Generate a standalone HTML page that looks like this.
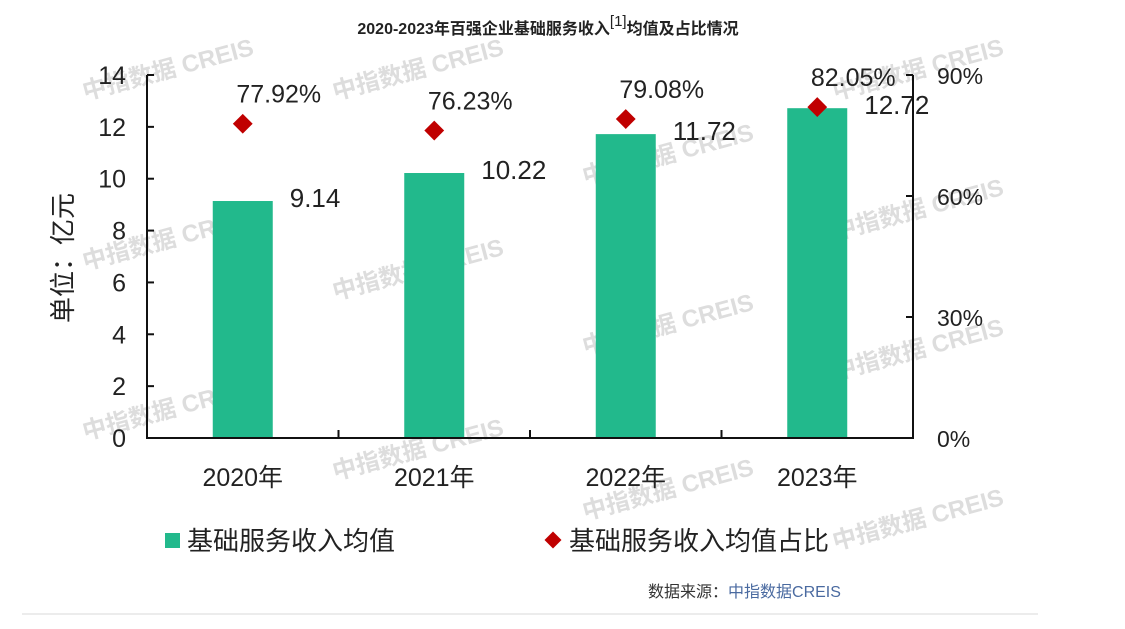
<!DOCTYPE html>
<html><head><meta charset="utf-8"><style>
body{margin:0;background:#fff;width:1125px;height:624px;overflow:hidden;font-family:"Liberation Sans","Noto Sans CJK SC",sans-serif}
</style></head><body>
<svg id="c" width="1125" height="624" xmlns="http://www.w3.org/2000/svg" style="font-family:'Liberation Sans','Noto Sans CJK SC',sans-serif">
<text x="548" y="34" text-anchor="middle" font-size="16" font-weight="bold" fill="#222">2020-2023年百强企业基础服务收入<tspan dy="-8" font-weight="normal" font-size="15">[1]</tspan><tspan dy="8">均值及占比情况</tspan></text>
<g id="wm" fill="#ddd" font-size="24" font-weight="bold"></g>
<g id="plot"></g>
<text transform="translate(72,258) rotate(-90)" text-anchor="middle" font-size="26" fill="#222">单位：亿元</text>
<rect x="165" y="533" width="15" height="15" fill="#22b98c"/>
<text x="187" y="550" font-size="26" fill="#222">基础服务收入均值</text>
<rect x="547" y="534" width="12" height="12" fill="#c00000" transform="rotate(45 553 540)"/>
<text x="569" y="550" font-size="26" fill="#222">基础服务收入均值占比</text>
<text x="648" y="597" font-size="16" fill="#333">数据来源：<tspan fill="#4a6aa0">中指数据CREIS</tspan></text>
<line x1="22" y1="614" x2="1038" y2="614" stroke="#e6e6e6" stroke-width="1.5"/>
</svg>
<script>
const categories=["2020年","2021年","2022年","2023年"];
const barValues=[9.14,10.22,11.72,12.72];
const barLabels=["9.14","10.22","11.72","12.72"];
const pctValues=[77.92,76.23,79.08,82.05];
const pctLabels=["77.92%","76.23%","79.08%","82.05%"];
const leftTicks=[0,2,4,6,8,10,12,14];
const rightTicks=[0,30,60,90];
const rightTickLabels=["0%","30%","60%","90%"];
const NS="http://www.w3.org/2000/svg";
const X0=147,X1=913,Y0=438,Y1=75;
const band=(X1-X0)/categories.length;
const xc=i=>X0+band*(i+0.5);
const yL=v=>Y0-(v/14)*(Y0-Y1);
const yR=v=>Y0-(v/90)*(Y0-Y1);
const g=document.getElementById('plot');
function mk(t,a,txt){const e=document.createElementNS(NS,t);for(const k in a)e.setAttribute(k,a[k]);if(txt!=null)e.textContent=txt;g.appendChild(e);return e;}
// watermarks
const wm=document.getElementById('wm');
[[85,100],[335,100],[585,185],[835,100],[85,270],[335,300],[585,355],[835,240],[85,440],[335,480],[585,520],[835,380],[835,550]].forEach(p=>{const t=document.createElementNS(NS,'text');t.setAttribute('x',p[0]);t.setAttribute('y',p[1]);t.setAttribute('transform','rotate(-15 '+p[0]+' '+p[1]+')');t.textContent='中指数据 CREIS';


wm.appendChild(t);});
barValues.forEach((v,i)=>{
 const b=mk('rect',{x:xc(i)-30,y:yL(v),width:60,height:Y0-yL(v),fill:'#22b98c'});
 
 
 const l=mk('text',{x:xc(i)+47,y:yL(v)+6,'font-size':26,fill:'#222'},barLabels[i]);
 
 
});
pctValues.forEach((v,i)=>{
 const y=yR(v),x=xc(i);
 const m=mk('rect',{x:x-7,y:y-7,width:14,height:14,fill:'#c00000',transform:'rotate(45 '+x+' '+y+')'});
 
 
 const l=mk('text',{x:x+36,y:y-21,'font-size':25,fill:'#222','text-anchor':'middle'},pctLabels[i]);
 
 
});
const ax=mk('path',{d:`M${X0},${Y1}V${Y0}H${X1}V${Y1}`,fill:'none',stroke:'#111','stroke-width':2});


leftTicks.forEach(v=>{
 mk('line',{x1:X0,x2:X0+7,y1:yL(v),y2:yL(v),stroke:'#111','stroke-width':2});
 const t=mk('text',{x:126,y:yL(v)+9,'font-size':25,fill:'#222','text-anchor':'end'},v);
 
 
});
rightTicks.forEach((v,i)=>{
 mk('line',{x1:X1-7,x2:X1,y1:yR(v),y2:yR(v),stroke:'#111','stroke-width':2});
 const t=mk('text',{x:937,y:yR(v)+9,'font-size':23,fill:'#222'},rightTickLabels[i]);
 
 
});
categories.forEach((c,i)=>{
 if(i>0)mk('line',{x1:X0+band*i,x2:X0+band*i,y1:Y0,y2:Y0-8,stroke:'#111','stroke-width':2});
 const t=mk('text',{x:xc(i),y:486,'font-size':25,fill:'#222','text-anchor':'middle'},c);
 
 
});
</script>
</body></html>
